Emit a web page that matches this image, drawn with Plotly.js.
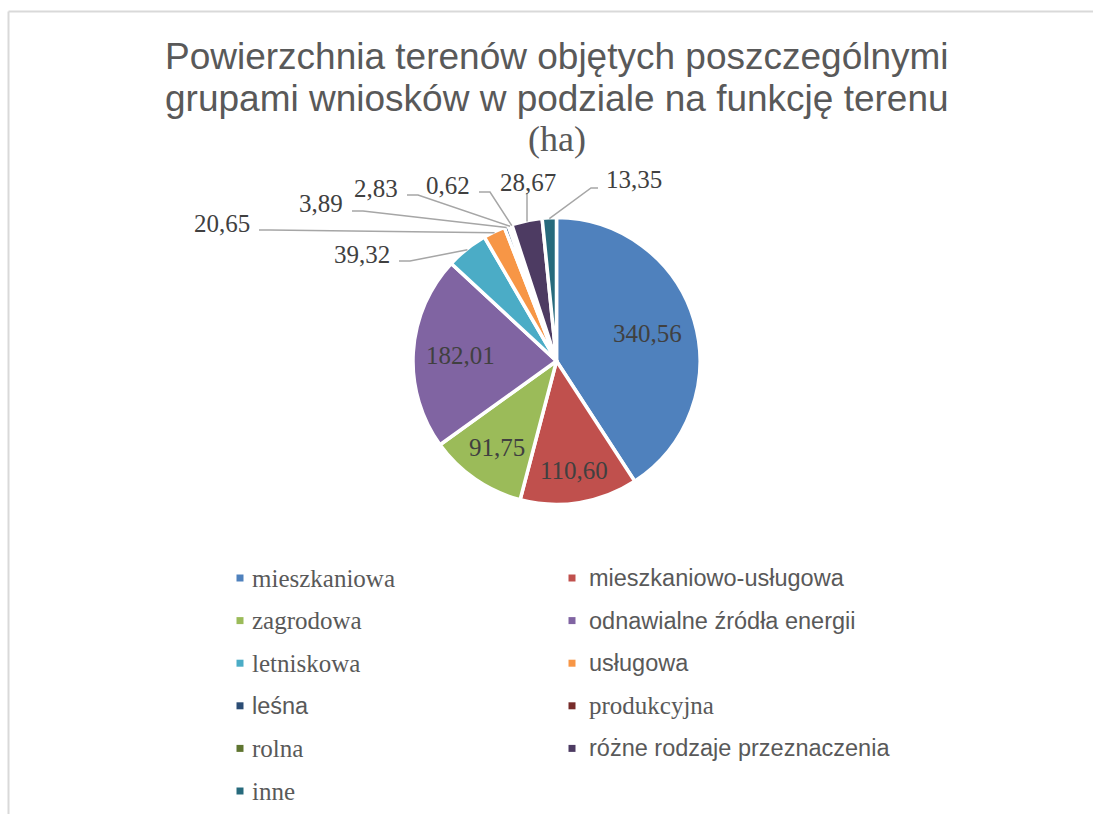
<!DOCTYPE html>
<html>
<head>
<meta charset="utf-8">
<script src="https://cdn.plot.ly/plotly-3.0.1.min.js"></script>
<style>html,body{margin:0;padding:0;background:#fff;}</style>
</head>
<body>
<div id="chart" style="width:1093px;height:814px;"></div>
<script>
// ---------- DATA ----------
const categories = [
  'mieszkaniowa', 'mieszkaniowo-usługowa', 'zagrodowa', 'odnawialne źródła energii',
  'letniskowa', 'usługowa', 'leśna', 'produkcyjna', 'rolna',
  'różne rodzaje przeznaczenia', 'inne'
];
const values = [340.56, 110.60, 91.75, 182.01, 39.32, 20.65, 3.89, 2.83, 0.62, 28.67, 13.35];
const titleLines = ['Powierzchnia terenów objętych poszczególnymi', 'grupami wniosków w podziale na funkcję terenu', '(ha)'];

// ---------- STYLE / LAYOUT CONFIG ----------
const sliceColors = ['#4F81BD', '#C0504D', '#9BBB59', '#8064A2', '#4BACC6', '#F79646',
                     '#2C4D75', '#772C2A', '#5F7530', '#4D3B62', '#276A7C'];
const legendSerif = [true, false, true, false, true, false, false, true, true, false, true];
const SERIF = 'Liberation Serif, Times New Roman, serif';
const SANS = 'Liberation Sans, Arial, sans-serif';
const W = 1093, H = 814;
const cx = 556.5, cy = 361, R = 143.5;
// inside labels: slice index -> fraction of radius where the label sits
const insideLabelRadius = {0: 0.665, 1: 0.77, 2: 0.73, 3: 0.67};
// outside label text placement (pixels) and leader style
const outsideLabelPos = {
  4: {x: 392, y: 254, side: 'left'},
  5: {x: 252, y: 223, side: 'left'},
  6: {x: 345, y: 204, side: 'left'},
  7: {x: 400, y: 188, side: 'left'},
  8: {x: 472, y: 185, side: 'left'},
  9: {x: 528, y: 183, side: 'above'},
  10: {x: 604, y: 180, side: 'right'}
};

const px = x => x / W;
const py = y => 1 - y / H;
const fmt = v => v.toFixed(2).replace('.', ',');

const total = values.reduce((a, b) => a + b, 0);
const midAngles = [];
let cum = 0;
values.forEach(v => { midAngles.push((cum + v / 2) / total * 2 * Math.PI); cum += v; });
const polar = (ang, r) => [cx + r * Math.sin(ang), cy - r * Math.cos(ang)];

const annotations = [];
const shapes = [];

// title
const titleY = [56, 99, 139];
titleLines.forEach((t, i) => {
  annotations.push({
    x: px(557), y: py(titleY[i]), xref: 'paper', yref: 'paper', showarrow: false,
    xanchor: 'center', yanchor: 'middle', text: t,
    font: {family: i === 2 ? SERIF : SANS, size: i === 2 ? 36 : 37, color: '#595959'}
  });
});

// inside labels
Object.keys(insideLabelRadius).forEach(k => {
  const i = +k;
  const [x, y] = polar(midAngles[i], R * insideLabelRadius[k]);
  annotations.push({
    x: px(x), y: py(y), xref: 'paper', yref: 'paper', showarrow: false,
    xanchor: 'center', yanchor: 'middle', text: fmt(values[i]),
    font: {family: SERIF, size: 25, color: '#404040'}
  });
});

// outside labels with leader lines
Object.keys(outsideLabelPos).forEach(k => {
  const i = +k, p = outsideLabelPos[k];
  const [ax, ay] = polar(midAngles[i], R - 1);
  let pts, xanchor;
  if (p.side === 'left') {
    xanchor = 'right';
    pts = [[p.x + 7, p.y + 7], [p.x + 18, p.y + 7], [ax, ay]];
  } else if (p.side === 'right') {
    xanchor = 'left';
    pts = [[p.x - 6, p.y + 8], [p.x - 13, p.y + 8], [ax, ay]];
  } else {
    xanchor = 'center';
    pts = [[ax, p.y + 10], [ax, ay]];
  }
  annotations.push({
    x: px(p.x), y: py(p.y), xref: 'paper', yref: 'paper', showarrow: false,
    xanchor: xanchor, yanchor: 'middle', text: fmt(values[i]),
    font: {family: SERIF, size: 25, color: '#404040'}
  });
  shapes.push({
    type: 'path', xref: 'paper', yref: 'paper',
    path: 'M ' + pts.map(q => px(q[0]) + ',' + py(q[1])).join(' L '),
    line: {color: '#a6a6a6', width: 1.5}
  });
});

// custom two-column legend
const legCols = [{mx: 240, tx: 250}, {mx: 572, tx: 587}];
const legY0 = 578, legDy = 42.6, ms = 3.5;
categories.forEach((c, i) => {
  const col = legCols[i % 2];
  const y = legY0 + Math.floor(i / 2) * legDy;
  shapes.push({
    type: 'rect', xref: 'paper', yref: 'paper',
    x0: px(col.mx - ms), x1: px(col.mx + ms), y0: py(y - ms), y1: py(y + ms),
    fillcolor: sliceColors[i], line: {width: 0}
  });
  annotations.push({
    x: px(col.tx), y: py(y), xref: 'paper', yref: 'paper', showarrow: false,
    xanchor: 'left', yanchor: 'middle', text: c,
    font: {family: legendSerif[i] ? SERIF : SANS, size: legendSerif[i] ? 25 : 23.5, color: '#595959'}
  });
});

// chart frame (top and left border)
shapes.push({type: 'line', xref: 'paper', yref: 'paper', x0: px(8.5), x1: 1, y0: py(11.5), y1: py(11.5),
  line: {color: '#d9d9d9', width: 2}});
shapes.push({type: 'line', xref: 'paper', yref: 'paper', x0: px(8.5), x1: px(8.5), y0: py(11.5), y1: 0,
  line: {color: '#d9d9d9', width: 2}});

const trace = {
  type: 'pie',
  labels: categories,
  values: values,
  sort: false,
  direction: 'clockwise',
  rotation: 0,
  textinfo: 'none',
  marker: {colors: sliceColors, line: {color: '#ffffff', width: 3.5}},
  domain: {x: [px(cx - R), px(cx + R)], y: [py(cy + R), py(cy - R)]},
  showlegend: false,
  hoverinfo: 'label+value'
};

const layout = {
  width: W, height: H,
  margin: {l: 0, r: 0, t: 0, b: 0, pad: 0},
  paper_bgcolor: '#ffffff',
  showlegend: false,
  annotations: annotations,
  shapes: shapes
};

Plotly.newPlot('chart', [trace], layout, {displayModeBar: false, staticPlot: true});
</script>
</body>
</html>
